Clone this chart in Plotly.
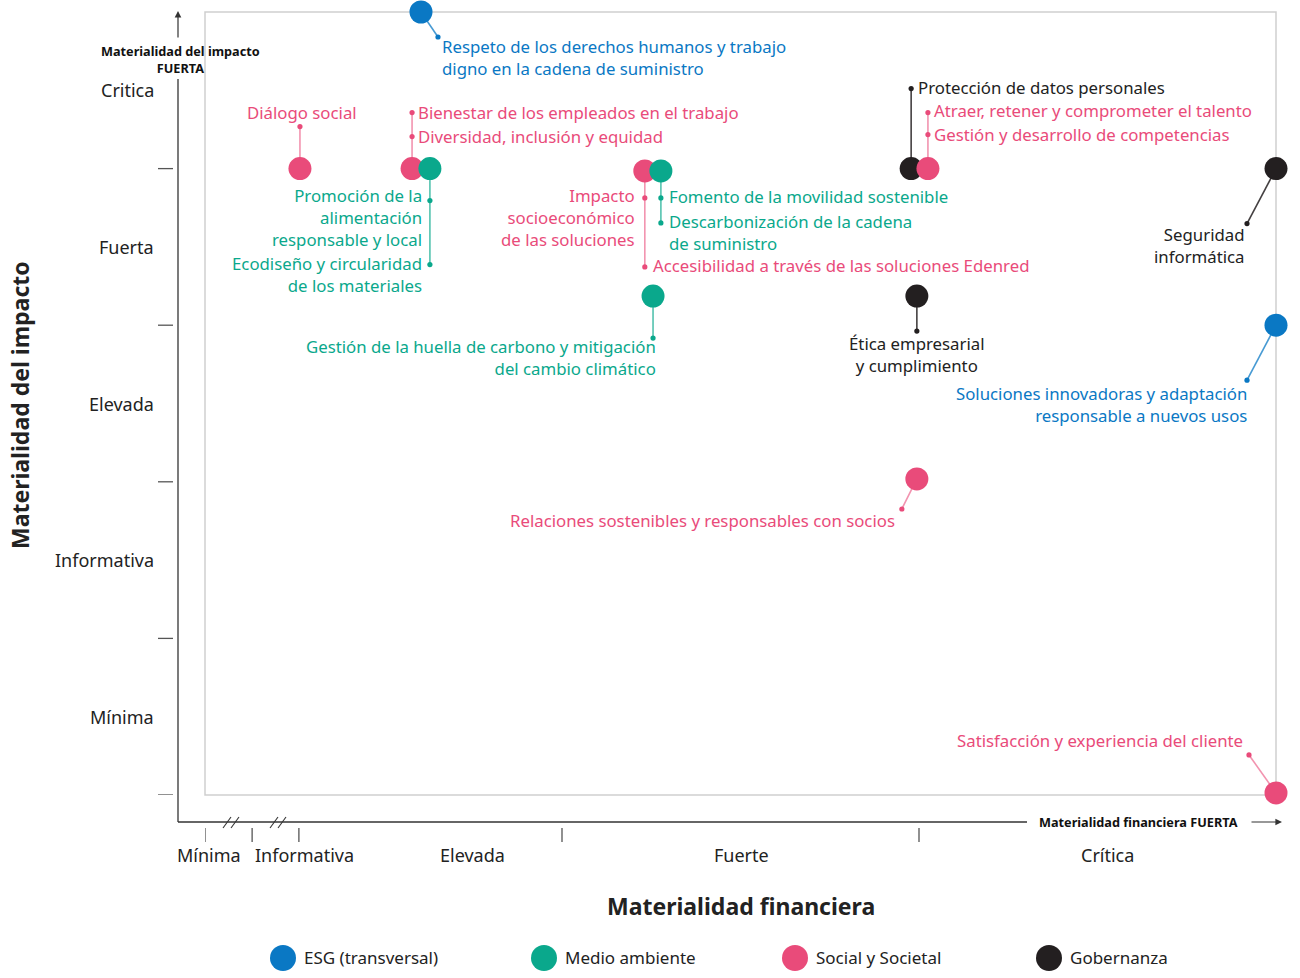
import plotly.graph_objects as go

# ---------------- data ----------------
categories = ["ESG (transversal)", "Medio ambiente", "Social y Societal", "Gobernanza"]
cat_colors = ["#0a78c4", "#0aa88c", "#e94b7a", "#231f20"]
line_colors = ["rgba(10,120,196,0.75)", "rgba(10,168,140,0.7)", "rgba(233,75,122,0.6)", "rgba(35,31,32,0.85)"]

topics = [
    "Respeto de los derechos humanos", "Diálogo social", "Bienestar de los empleados",
    "Promoción de la alimentación", "Impacto socioeconómico", "Fomento de la movilidad",
    "Gestión de la huella de carbono", "Protección de datos personales", "Atraer, retener talento",
    "Seguridad informática", "Ética empresarial", "Soluciones innovadoras",
    "Relaciones sostenibles", "Satisfacción del cliente",
]
topic_cat = [0, 2, 2, 1, 2, 1, 1, 3, 2, 3, 3, 0, 2, 2]
# financial materiality (0=Mínima start, 1=Elevada/Fuerte, 2=Fuerte/Crítica, 3=max)
fin_score = [0.605, 0.266, 0.580, 0.630, 1.232, 1.277, 1.255, 1.978, 2.025, 3.0, 1.994, 3.0, 1.994, 3.0]
# impact materiality (0..5)
imp_score = [5.0, 4.0, 4.0, 4.0, 3.985, 3.985, 3.186, 4.0, 4.0, 4.0, 3.186, 3.0, 2.018, 0.013]

x_tick_vals = [0, 0.132, 0.263, 1, 2]
x_label_text = ["Mínima", "Informativa", "Elevada", "Fuerte", "Crítica"]
x_label_pos = [0.011, 0.28, 0.748, 1.504, 2.527]
y_tick_vals = [0, 1, 2, 3, 4]
y_label_text = ["Mínima", "Informativa", "Elevada", "Fuerta", "Critica"]
y_label_pos = [0.5, 1.5, 2.5, 3.5, 4.5]

# callouts: (topic index, leader end offset px (dx, dy down), dot offsets,
#            text blocks (text with <br>, dx, dy of block centre, anchor))
callouts = [
    (0, (17, 25), [(17, 25)], [("Respeto de los derechos humanos y trabajo<br>digno en la cadena de suministro", 20, 45, "left")]),
    (1, (0, -42), [(0, -42)], [("Diálogo social", 2, -56, "center")]),
    (2, (0, -56), [(0, -56), (0, -32)], [("Bienestar de los empleados en el trabajo", 5, -56, "left"),
                                         ("Diversidad, inclusión y equidad", 5, -32, "left")]),
    (3, (0, 96), [(0, 32), (0, 96)], [("Promoción de la<br>alimentación<br>responsable y local", -7, 49, "right"),
                                      ("Ecodiseño y circularidad<br>de los materiales", -7, 106, "right")]),
    (4, (0, 96), [(0, 27), (0, 96)], [("Impacto<br>socioeconómico<br>de las soluciones", -9, 47, "right"),
                                      ("Accesibilidad a través de las soluciones Edenred", 7, 95, "left")]),
    (5, (0, 52), [(0, 27), (0, 52)], [("Fomento de la movilidad sostenible", 7, 26, "left"),
                                      ("Descarbonización de la cadena<br>de suministro", 7, 62, "left")]),
    (6, (0, 42), [(0, 42)], [("Gestión de la huella de carbono y mitigación<br>del cambio climático", 4, 61, "right")]),
    (7, (0, -80), [(0, -80)], [("Protección de datos personales", 6, -81, "left")]),
    (8, (0, -56), [(0, -56), (0, -34)], [("Atraer, retener y comprometer el talento", 5, -58, "left"),
                                         ("Gestión y desarrollo de competencias", 5, -34, "left")]),
    (9, (-29, 55), [(-29, 55)], [("Seguridad<br>informática", -30, 77, "right")]),
    (10, (0, 35), [(0, 35)], [("Ética empresarial<br>y cumplimiento", 0, 58, "center")]),
    (11, (-29, 55), [(-29, 55)], [("Soluciones innovadoras y adaptación<br>responsable a nuevos usos", -28, 79, "right")]),
    (12, (-15, 30), [(-15, 30)], [("Relaciones sostenibles y responsables con socios", -21, 42, "right")]),
    (13, (-27, -38), [(-27, -38)], [("Satisfacción y experiencia del cliente", -32, -52, "right")]),
]

# ---------------- layout geometry ----------------
W, H = 1300, 978
ML, MR, MT, MB = 205, 24, 12, 183
PW, PH = W - ML - MR, H - MT - MB
FONT = "Noto Sans"
TXT = "#222222"


def xp(px):
    return (px - ML) / PW


def yp(py):
    return (H - MB - py) / PH


fig = go.Figure()

# points: draw Gobernanza, Social, Medio ambiente, ESG order (overlaps)
for ci in [3, 2, 1, 0]:
    idx = [i for i, c in enumerate(topic_cat) if c == ci]
    fig.add_trace(go.Scatter(
        x=[fin_score[i] for i in idx], y=[imp_score[i] for i in idx],
        mode="markers", name=categories[ci], text=[topics[i] for i in idx],
        marker=dict(size=23, color=cat_colors[ci], line=dict(width=0)),
        cliponaxis=False, showlegend=False, hoverinfo="text",
    ))

shapes = []
annotations = []

# plot frame
shapes.append(dict(type="rect", xref="paper", yref="paper", x0=0, x1=1, y0=0, y1=1,
                   line=dict(color="#cfcfcf", width=1.5), layer="below"))

# callouts
for ti, (ldx, ldy), dots, blocks in callouts:
    ci = topic_cat[ti]
    xa, ya = fin_score[ti], imp_score[ti]
    shapes.append(dict(type="line", xref="x", yref="y", xsizemode="pixel", ysizemode="pixel",
                       xanchor=xa, yanchor=ya, x0=0, y0=0, x1=ldx, y1=-ldy,
                       line=dict(color=line_colors[ci], width=1.6), layer="below"))
    for ddx, ddy in dots:
        shapes.append(dict(type="circle", xref="x", yref="y", xsizemode="pixel", ysizemode="pixel",
                           xanchor=xa, yanchor=ya, x0=ddx - 2.6, x1=ddx + 2.6, y0=-ddy - 2.6, y1=-ddy + 2.6,
                           fillcolor=cat_colors[ci], line=dict(width=0), layer="below"))
    for text, tdx, tdy, anc in blocks:
        annotations.append(dict(x=xa, y=ya, xref="x", yref="y", text=text, showarrow=False,
                                xshift=tdx, yshift=-tdy, xanchor=anc, yanchor="middle", align=anc,
                                borderpad=0,
                                font=dict(family=FONT, size=16.8, color=cat_colors[ci] if ci != 3 else TXT)))

# axis lines (offset from plot)
AX_X, AX_Y = 178, 822
shapes.append(dict(type="line", xref="paper", yref="paper", x0=xp(AX_X), x1=xp(AX_X), y0=yp(AX_Y), y1=yp(79),
                   line=dict(color="#333", width=1.3)))
shapes.append(dict(type="line", xref="paper", yref="paper", x0=xp(AX_X), x1=xp(1027), y0=yp(AX_Y), y1=yp(AX_Y),
                   line=dict(color="#333", width=1.3)))
annotations.append(dict(xref="paper", yref="paper", x=xp(AX_X), y=yp(11), ax=0, ay=28, text="",
                        showarrow=True, arrowhead=2, arrowsize=1.1, arrowwidth=1.2, arrowcolor="#333", standoff=0))
annotations.append(dict(xref="paper", yref="paper", x=xp(1282), y=yp(AX_Y), ax=-32, ay=0, text="",
                        showarrow=True, arrowhead=2, arrowsize=1.1, arrowwidth=1.2, arrowcolor="#333", standoff=0))

# axis break marks
for bx in [231, 278]:
    for off in [-4, 4]:
        shapes.append(dict(type="line", xref="paper", yref="paper",
                           x0=xp(bx + off - 4), x1=xp(bx + off + 4), y0=yp(828), y1=yp(817),
                           line=dict(color="#333", width=1.1)))

# tick marks
for v in x_tick_vals:
    shapes.append(dict(type="line", xref="x", yref="paper", x0=v, x1=v, y0=yp(828), y1=yp(842),
                       line=dict(color="#555", width=1.3)))
for v in y_tick_vals:
    shapes.append(dict(type="line", xref="paper", yref="y", x0=xp(158), x1=xp(173), y0=v, y1=v,
                       line=dict(color="#555", width=1.3)))

# tick labels
for t, v in zip(x_label_text, x_label_pos):
    annotations.append(dict(xref="x", yref="paper", x=v, y=yp(855), text=t, showarrow=False,
                            xanchor="center", yanchor="middle", font=dict(family=FONT, size=18, color=TXT)))
for t, v in zip(y_label_text, y_label_pos):
    annotations.append(dict(xref="paper", yref="y", x=xp(156), y=v, text=t, showarrow=False,
                            xanchor="right", yanchor="middle", font=dict(family=FONT, size=18, color=TXT)))

# axis small captions
bold_small = dict(family=FONT, size=12.7, color="#111")
annotations.append(dict(xref="paper", yref="paper", x=xp(180), y=yp(59),
                        text="<b>Materialidad del impacto</b><br><b>FUERTA</b>",
                        showarrow=False, xanchor="center", yanchor="middle", font=bold_small, borderpad=0))
annotations.append(dict(xref="paper", yref="paper", x=xp(1138), y=yp(822), text="<b>Materialidad financiera FUERTA</b>",
                        showarrow=False, xanchor="center", yanchor="middle", font=bold_small))

# axis titles
annotations.append(dict(xref="paper", yref="paper", x=xp(741), y=yp(906), text="<b>Materialidad financiera</b>",
                        showarrow=False, xanchor="center", yanchor="middle",
                        font=dict(family=FONT, size=23, color="#222")))
annotations.append(dict(xref="paper", yref="paper", x=xp(20), y=yp(405), text="<b>Materialidad del impacto</b>",
                        showarrow=False, xanchor="center", yanchor="middle", textangle=-90,
                        font=dict(family=FONT, size=23, color="#222")))

# legend (manual, large circles)
legend_px = [283, 544, 795, 1049]
for ci, lx in enumerate(legend_px):
    shapes.append(dict(type="circle", xref="paper", yref="paper", xsizemode="pixel", ysizemode="pixel",
                       xanchor=xp(lx), yanchor=yp(958), x0=-13, x1=13, y0=-13, y1=13,
                       fillcolor=cat_colors[ci], line=dict(width=0)))
    annotations.append(dict(xref="paper", yref="paper", x=xp(lx + 19), y=yp(958), text=categories[ci],
                            showarrow=False, xanchor="left", yanchor="middle",
                            font=dict(family=FONT, size=17, color=TXT)))

fig.update_layout(
    width=W, height=H,
    margin=dict(l=ML, r=MR, t=MT, b=MB),
    paper_bgcolor="white", plot_bgcolor="white",
    xaxis=dict(range=[0, 3], visible=False, fixedrange=True),
    yaxis=dict(range=[0, 5], visible=False, fixedrange=True),
    shapes=shapes, annotations=annotations, showlegend=False,
    font=dict(family=FONT),
)

fig.write_html("out.html", config={"displayModeBar": False},
               post_script="document.body.style.margin='0';document.body.style.overflow='hidden';")
